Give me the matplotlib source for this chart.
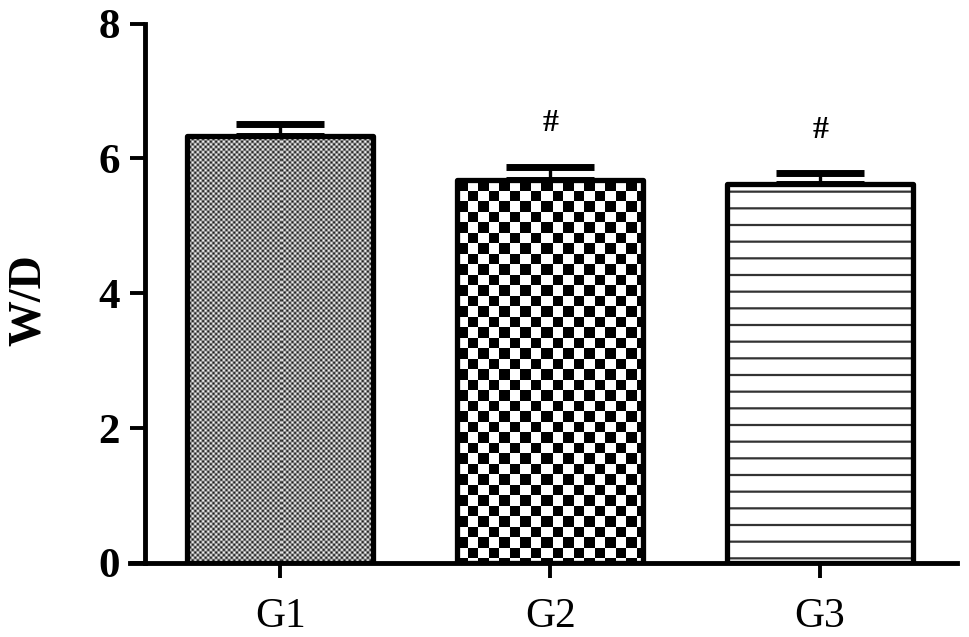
import numpy as np
import matplotlib
matplotlib.use("Agg")
import matplotlib.pyplot as plt

# ======================================================
# DATA
# ======================================================

groups = ["G1", "G2", "G3"]
values = [6.33, 5.68, 5.62]
errors = [0.18, 0.20, 0.16]
marks = ["", "#", "#"]

# ======================================================
# FIGURE
# ======================================================

plt.rcParams["hatch.linewidth"] = 1.6

fig = plt.figure(figsize=(9.69, 6.37), dpi=100)
ax = fig.add_axes([0.1342, 0.1162, 0.8534, 0.8468])

x = np.arange(len(groups))
width = 0.69

ax.set_xlim(-0.556, 2.507)
ax.set_ylim(0, 8)

# error bars (upper only)
ax.errorbar(
    x, values,
    yerr=[np.zeros(len(values)), errors],
    fmt="none",
    ecolor="black",
    elinewidth=2.4,
    capsize=32,
    capthick=5,
    zorder=1
)

# G3 background with horizontal lines
ax.bar(
    x[2], values[2], width,
    facecolor="white",
    edgecolor="#333333",
    linewidth=0,
    hatch="-",
    zorder=2
)

# outlines
bars = ax.bar(
    x, values, width,
    facecolor="none",
    edgecolor="black",
    linewidth=3.8,
    zorder=4
)
for b in bars:
    b.set_joinstyle("round")


def texture(bar, kind):
    # build a pixel-sized texture for the bar and clip it to the bar
    x0, y0 = bar.get_x(), bar.get_y()
    x1, y1 = x0 + bar.get_width(), y0 + bar.get_height()
    (px0, py0), (px1, py1) = ax.transData.transform([(x0, y0), (x1, y1)])
    w = int(round(px1 - px0))
    h = int(round(py1 - py0))
    jj, ii = np.meshgrid(np.arange(w), np.arange(h))
    if kind == "fine":
        p = 5.2
        img = 0.5 + 0.5 * np.cos(2 * np.pi * jj / p) * np.cos(2 * np.pi * ii / p)
        img = 0.1 + 0.88 * img
    else:
        c = 10.5
        img = ((np.floor(jj / c) + np.floor(ii / c)) % 2).astype(float)
    im = ax.imshow(
        img,
        extent=(x0, x1, y0, y1),
        cmap="gray",
        vmin=0, vmax=1,
        interpolation="nearest",
        origin="upper",
        aspect="auto",
        zorder=3
    )
    im.set_clip_path(bar)


texture(bars[0], "fine")
texture(bars[1], "check")

ax.set_xlim(-0.556, 2.507)
ax.set_ylim(0, 8)

# significance marks
for xi, v, e, m in zip(x, values, errors, marks):
    if m:
        ax.text(
            xi, v + e + 0.64, m,
            ha="center", va="center",
            fontsize=23,
            fontweight="bold",
            family="Liberation Serif"
        )

# ======================================================
# AXES STYLE
# ======================================================

ax.spines["top"].set_visible(False)
ax.spines["right"].set_visible(False)
ax.spines["left"].set_position(("data", -0.5))
ax.spines["left"].set_linewidth(3.5)
ax.spines["bottom"].set_linewidth(3.5)

ax.set_yticks([0, 2, 4, 6, 8])
ax.set_yticklabels(
    ["0", "2", "4", "6", "8"],
    fontsize=31,
    fontweight="bold",
    family="Liberation Serif"
)
ax.set_xticks(x)
ax.set_xticklabels(
    groups,
    fontsize=30,
    family="Liberation Serif"
)

ax.tick_params(axis="y", length=11, width=2.8, pad=7)
ax.tick_params(axis="x", length=11, width=2.8, pad=14)

fig.text(
    29 / 969, 1 - 300 / 637,
    "W/D",
    rotation=90,
    ha="center", va="center",
    fontsize=33,
    fontweight="bold",
    family="Liberation Serif"
)

fig.savefig("out.png", dpi=100)
